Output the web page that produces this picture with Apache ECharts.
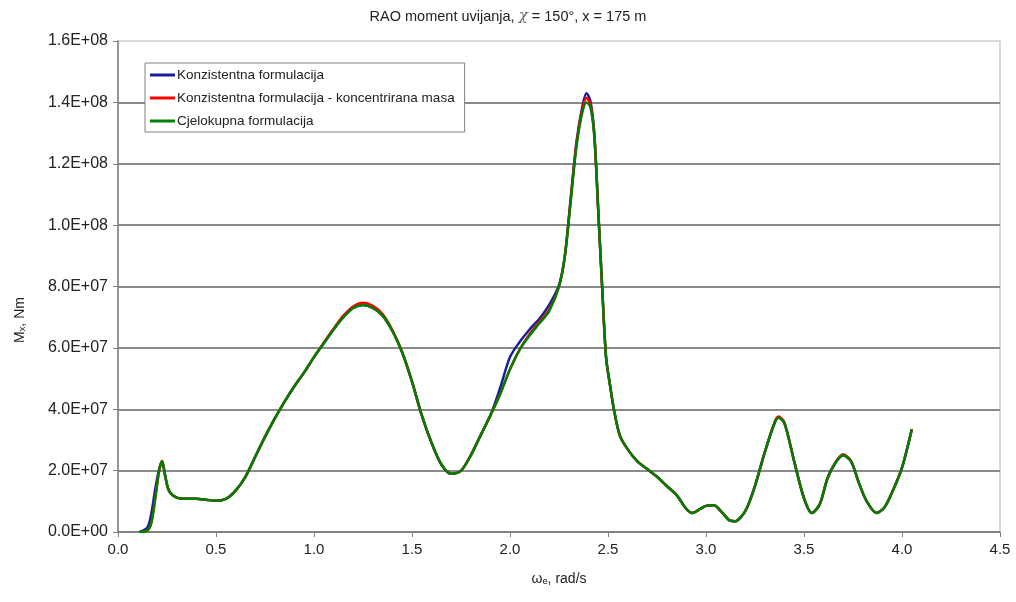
<!DOCTYPE html>
<html>
<head>
<meta charset="utf-8">
<script src="https://cdn.jsdelivr.net/npm/echarts@6/dist/echarts.min.js"></script>
<style>
  html, body { margin: 0; padding: 0; background: #fff; }
  #chart { width: 1016px; height: 602px; }
</style>
</head>
<body>
<div id="chart"></div>
<script>
// omega_e, rad/s
const omega = [0.11, 0.15, 0.17, 0.19, 0.21, 0.225, 0.24, 0.26, 0.30, 0.35, 0.40, 0.45, 0.50, 0.55, 0.60, 0.65, 0.70, 0.75, 0.80, 0.85,
  0.90, 0.95, 1.00, 1.05, 1.10, 1.15, 1.20, 1.25, 1.30, 1.35, 1.40, 1.45, 1.50, 1.55, 1.60, 1.65, 1.70, 1.75, 1.80, 1.85,
  1.90, 1.95, 2.00, 2.05, 2.10, 2.15, 2.20, 2.25, 2.28, 2.31, 2.34, 2.37, 2.39, 2.41, 2.43, 2.45, 2.47, 2.49, 2.51, 2.53,
  2.56, 2.60, 2.65, 2.70, 2.75, 2.80, 2.85, 2.90, 2.93, 2.97, 3.00, 3.04, 3.08, 3.12, 3.15, 3.18, 3.21, 3.25, 3.30, 3.35,
  3.37, 3.40, 3.45, 3.50, 3.54, 3.58, 3.62, 3.66, 3.70, 3.74, 3.78, 3.82, 3.87, 3.91, 3.95, 4.00, 4.05]

// Mx in 1e7 Nm
const konzistentna = [0, 0.15, 0.6, 1.4, 2.05, 2.3, 1.85, 1.35, 1.12, 1.08, 1.08, 1.05, 1.02, 1.08, 1.35, 1.8, 2.45, 3.1, 3.7, 4.25,
  4.75, 5.2, 5.7, 6.15, 6.6, 7.0, 7.3, 7.4, 7.3, 7.05, 6.55, 5.85, 4.9, 3.8, 2.9, 2.2, 1.9, 2.0, 2.5, 3.15,
  3.8, 4.7, 5.7, 6.2, 6.6, 6.95, 7.4, 8.05, 9.0, 10.9, 12.75, 13.9, 14.3, 14.05, 13.0, 10.5, 8.0, 5.7, 4.8, 4.0,
  3.15, 2.7, 2.3, 2.05, 1.8, 1.5, 1.2, 0.75, 0.62, 0.75, 0.85, 0.87, 0.65, 0.38, 0.35, 0.5, 0.8, 1.5, 2.6, 3.55,
  3.72, 3.55, 2.3, 1.1, 0.62, 0.9, 1.75, 2.25, 2.5, 2.3, 1.6, 1.0, 0.62, 0.8, 1.3, 2.1, 3.35]

const koncentrirana = [0, 0.05, 0.3, 1.1, 2.0, 2.32, 1.85, 1.35, 1.12, 1.08, 1.08, 1.05, 1.02, 1.08, 1.35, 1.8, 2.45, 3.1, 3.7, 4.25,
  4.75, 5.2, 5.7, 6.17, 6.63, 7.05, 7.35, 7.47, 7.37, 7.1, 6.58, 5.87, 4.9, 3.8, 2.9, 2.2, 1.9, 2.0, 2.5, 3.15,
  3.8, 4.5, 5.3, 5.95, 6.45, 6.85, 7.25, 8.0, 9.0, 10.85, 12.7, 13.8, 14.15, 13.95, 12.95, 10.5, 8.0, 5.7, 4.8, 4.0,
  3.15, 2.7, 2.3, 2.05, 1.8, 1.5, 1.2, 0.75, 0.62, 0.75, 0.85, 0.87, 0.65, 0.38, 0.35, 0.5, 0.8, 1.5, 2.6, 3.58,
  3.76, 3.57, 2.3, 1.1, 0.62, 0.9, 1.75, 2.27, 2.53, 2.32, 1.6, 1.0, 0.62, 0.8, 1.3, 2.1, 3.35]

const cjelokupna = [0, 0.05, 0.3, 1.1, 2.0, 2.3, 1.85, 1.35, 1.12, 1.08, 1.08, 1.05, 1.02, 1.08, 1.35, 1.8, 2.45, 3.1, 3.7, 4.25,
  4.75, 5.2, 5.7, 6.15, 6.6, 7.0, 7.3, 7.4, 7.3, 7.05, 6.55, 5.85, 4.9, 3.8, 2.9, 2.2, 1.9, 2.0, 2.5, 3.15,
  3.8, 4.5, 5.3, 5.95, 6.4, 6.8, 7.2, 8.0, 9.0, 10.8, 12.6, 13.7, 14.0, 13.85, 12.9, 10.5, 8.0, 5.7, 4.8, 4.0,
  3.15, 2.7, 2.3, 2.05, 1.8, 1.5, 1.2, 0.75, 0.62, 0.75, 0.85, 0.87, 0.65, 0.38, 0.35, 0.5, 0.8, 1.5, 2.6, 3.55,
  3.72, 3.55, 2.3, 1.1, 0.62, 0.9, 1.75, 2.25, 2.5, 2.3, 1.6, 1.0, 0.62, 0.8, 1.3, 2.1, 3.35]

const seriesNames = ['Konzistentna formulacija', 'Konzistentna formulacija - koncentrirana masa', 'Cjelokupna formulacija']
const xTickLabels = ['0.0', '0.5', '1.0', '1.5', '2.0', '2.5', '3.0', '3.5', '4.0', '4.5']
const yTickLabels = ['0.0E+00', '2.0E+07', '4.0E+07', '6.0E+07', '8.0E+07', '1.0E+08', '1.2E+08', '1.4E+08', '1.6E+08']

function pairs(ys) {
  return omega.map((x, i) => [x, ys[i] * 1e7])
}

const chart = echarts.init(document.getElementById('chart'))
const font = 'Arial, "Liberation Sans", sans-serif'

const options = {
  animation: false,
  color: ['#1c1c96', '#ff0000', '#008000'],
  textStyle: { fontFamily: font },
  title: {
    left: 'center',
    top: 4,
    text: '{a|RAO moment uvijanja, }{c|χ}{a| = 150°, x = 175 m}',
    textStyle: {
      rich: {
        a: { fontSize: 14.5, color: '#222', fontFamily: font, fontWeight: 'normal' },
        c: { fontSize: 15, color: '#666', fontFamily: 'DejaVu Serif', fontStyle: 'italic', fontWeight: 'normal' }
      }
    }
  },
  legend: {
    orient: 'vertical',
    left: 145,
    top: 63,
    icon: 'rect',
    itemWidth: 25,
    itemHeight: 3,
    itemGap: 9,
    padding: [5, 10, 4, 5],
    backgroundColor: '#fff',
    borderColor: '#808080',
    borderWidth: 1,
    borderRadius: 0,
    textStyle: { fontSize: 13.5, lineHeight: 14, color: '#222', padding: [0, 0, 0, -3] },
    data: seriesNames
  },
  grid: {
    left: 118,
    right: 16,
    top: 41,
    bottom: 70,
    show: true,
    borderColor: '#cfcfcf',
    borderWidth: 1.5
  },
  xAxis: {
    type: 'value',
    min: 0,
    max: 4.5,
    interval: 0.5,
    name: 'ωₑ, rad/s',
    nameLocation: 'middle',
    nameGap: 40,
    nameTextStyle: { fontSize: 14, color: '#222' },
    axisLine: { lineStyle: { color: '#808080', width: 1.5 } },
    axisTick: { show: true, length: 5, lineStyle: { color: '#808080' } },
    axisLabel: {
      fontSize: 15, color: '#222', margin: 10,
      formatter: v => xTickLabels[Math.round(v / 0.5)]
    },
    splitLine: { show: false }
  },
  yAxis: {
    type: 'value',
    min: 0,
    max: 1.6e8,
    interval: 2e7,
    axisLine: { show: true, lineStyle: { color: '#808080', width: 1.5 } },
    axisTick: { show: true, length: 5, lineStyle: { color: '#808080' } },
    axisLabel: {
      fontSize: 16, color: '#222', margin: 10,
      formatter: v => yTickLabels[Math.round(v / 2e7)]
    },
    splitLine: { show: true, showMaxLine: false, lineStyle: { color: '#8a8a8a', width: 1.8 } }
  },
  graphic: [{
    type: 'text',
    x: 20,
    y: 320,
    rotation: Math.PI / 2,
    style: {
      text: 'Mₓ, Nm',
      fontSize: 14,
      fill: '#222',
      fontFamily: font,
      align: 'center',
      verticalAlign: 'middle'
    }
  }],
  series: [
    { name: seriesNames[0], type: 'line', data: pairs(konzistentna) },
    { name: seriesNames[1], type: 'line', data: pairs(koncentrirana) },
    { name: seriesNames[2], type: 'line', data: pairs(cjelokupna) }
  ].map(s => Object.assign(s, {
    showSymbol: false,
    symbol: 'none',
    smooth: 0.3,
    lineStyle: { width: 2.5 }
  }))
}

chart.setOption(options, true)
</script>
</body>
</html>
